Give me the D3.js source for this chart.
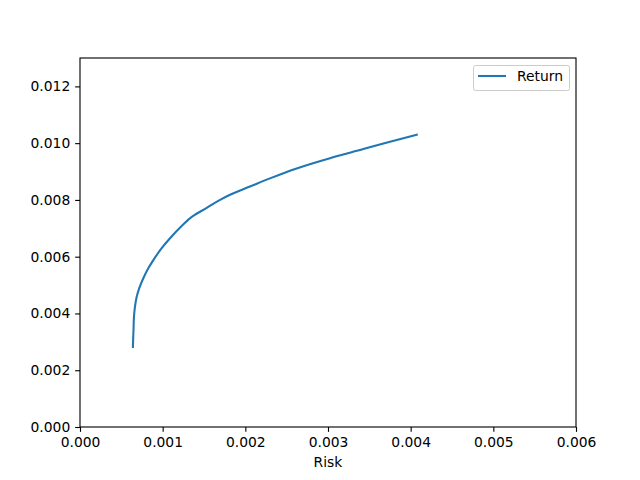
<!DOCTYPE html>
<html><head><meta charset="utf-8">
<script src="https://cdn.jsdelivr.net/npm/d3@7"></script>
<style>body{margin:0;background:#fff}svg{display:block}text{font-family:"DejaVu Sans",sans-serif}</style>
</head><body><svg id="c" width="640" height="480"></svg>
<script>
const risk = [0.000640,0.000643,0.000647,0.000653,0.000665,0.000686,0.000717,0.000766,0.000826,0.000887,0.000988,0.001089,0.001230,0.001360,0.001533,0.001694,0.001815,0.002056,0.002298,0.002621,0.003024,0.003427,0.003750,0.004073];
const ret  = [0.00282,0.00310,0.00340,0.00389,0.00424,0.00459,0.00489,0.00524,0.00559,0.00588,0.00630,0.00665,0.00708,0.00742,0.00772,0.00800,0.00818,0.00847,0.00876,0.00911,0.00947,0.00979,0.01005,0.01030];
const xTicks = [0,0.001,0.002,0.003,0.004,0.005,0.006];
const yTicks = [0,0.002,0.004,0.006,0.008,0.010,0.012];
const seriesName = "Return", xLabel = "Risk";

const L=80,R=576,T=58,B=427;
const svg=d3.select("#c");
const x=d3.scaleLinear().domain([0,0.006]).range([L,R]);
const y=d3.scaleLinear().domain([0,0.013]).range([B,T]);
const fs="13.89px";

const line=d3.line().x((d,i)=>x(risk[i])).y((d,i)=>y(ret[i])).curve(d3.curveMonotoneY);
svg.append("path").datum(risk).attr("d",line).attr("fill","none").attr("stroke","#1f77b4").attr("stroke-width",2.08).attr("stroke-linecap","square");

const xa=svg.append("g").attr("transform",`translate(0,${B})`).call(d3.axisBottom(x).tickValues(xTicks).tickFormat(d3.format(".3f")).tickSize(4.86).tickPadding(4.86));
const ya=svg.append("g").attr("transform",`translate(${L},0)`).call(d3.axisLeft(y).tickValues(yTicks).tickFormat(d3.format(".3f")).tickSize(4.86).tickPadding(4.86));
[xa,ya].forEach(a=>{a.select(".domain").remove();a.selectAll("line").attr("stroke","#000").attr("stroke-width",1.11);a.selectAll("text").attr("font-size",fs).attr("fill","#000").attr("font-family","DejaVu Sans");});
xa.selectAll("text").attr("dy","0.71em");

svg.append("rect").attr("x",L).attr("y",T).attr("width",R-L).attr("height",B-T).attr("fill","none").attr("stroke","#000").attr("stroke-width",1.11);

svg.append("text").attr("x",(L+R)/2).attr("y",467).attr("text-anchor","middle").attr("font-size",fs).text(xLabel);

const lg=svg.append("g");
lg.append("rect").attr("x",473.5).attr("y",65.5).attr("width",96).attr("height",25).attr("rx",2).attr("fill","#fff").attr("fill-opacity",0.8).attr("stroke","#ccc").attr("stroke-width",1);
lg.append("line").attr("x1",478).attr("x2",506).attr("y1",76).attr("y2",76).attr("stroke","#1f77b4").attr("stroke-width",2.08);
lg.append("text").attr("x",517).attr("y",81).attr("font-size",fs).text(seriesName);
</script></body></html>
